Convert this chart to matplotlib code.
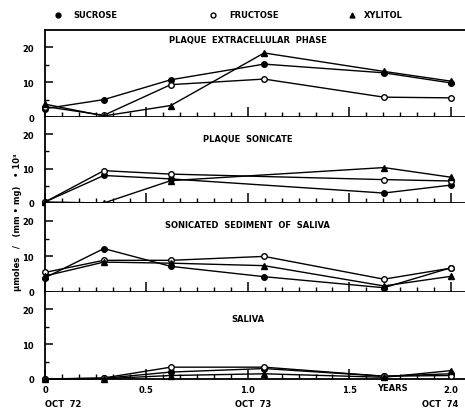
import numpy as np
import matplotlib
matplotlib.use("Agg")
import matplotlib.pyplot as plt
from matplotlib.lines import Line2D
from matplotlib.ticker import MultipleLocator, FixedLocator

# time in years from Oct 72
t_full = [0, 0.29, 0.62, 1.08, 1.67, 2.0]
t_sonic = [0, 0.29, 0.62, 1.67, 2.0]

panel_titles = ["PLAQUE  EXTRACELLULAR  PHASE", "PLAQUE  SONICATE",
                "SONICATED  SEDIMENT  OF  SALIVA", "SALIVA"]
title_y = [22.3, 18.8, 19.1, 17.4]

# plaque extracellular phase
p1_sucrose = [2.4, 5.0, 10.7, 15.2, 12.7, 9.8]
p1_fructose = [3.0, 0.5, 9.3, 10.9, 5.7, 5.5]
p1_xylitol = [3.7, 0.3, 3.3, 18.4, 13.1, 10.3]

# plaque sonicate
p2_sucrose = [0.3, 8.0, 7.0, 2.9, 5.2]
p2_fructose = [0.3, 9.4, 8.4, 6.8, 6.4]
p2_xylitol = [0.3, 0.0, 6.5, 10.3, 7.5]

# sonicated sediment of saliva
p3_sucrose = [4.0, 12.2, 7.2, 4.3, 1.2, 6.8]
p3_fructose = [5.5, 8.9, 8.9, 10.0, 3.6, 6.7]
p3_xylitol = [4.5, 8.4, 8.1, 7.4, 1.7, 4.4]

# saliva
p4_sucrose = [0, 0.2, 2.0, 3.0, 0.8, 1.5]
p4_fructose = [0, 0.3, 3.4, 3.4, 0.8, 1.0]
p4_xylitol = [0, 0.1, 1.0, 1.5, 0.5, 2.4]

panels = [
    (t_full, p1_sucrose, p1_fructose, p1_xylitol),
    (t_sonic, p2_sucrose, p2_fructose, p2_xylitol),
    (t_full, p3_sucrose, p3_fructose, p3_xylitol),
    (t_full, p4_sucrose, p4_fructose, p4_xylitol),
]

xticks = [0, 0.5, 1.0, 1.5, 2.0]
xticklabels = ["0", "0.5", "1.0", "1.5", "2.0"]

fs = 6
bold = dict(fontsize=fs, fontweight="bold", family="DejaVu Sans")

fig = plt.figure(figsize=(4.65, 4.10), dpi=100)
left, right = 45 / 465, 465 / 465
tops = [31, 118, 204, 293]
bots = [118, 204, 293, 380]
axes = []
for i in range(4):
    b = 1 - bots[i] / 410
    h = (bots[i] - tops[i]) / 410
    ax = fig.add_axes([left, b, right - left, h])
    axes.append(ax)

for i, ax in enumerate(axes):
    x, s, f, xy = panels[i]
    ax.plot(x, s, color="black", lw=1.0, marker="o", ms=4, mfc="black", clip_on=False, zorder=3)
    ax.plot(x, f, color="black", lw=1.0, marker="o", ms=4, mfc="white", clip_on=False, zorder=3)
    ax.plot(x, xy, color="black", lw=1.0, marker="^", ms=4, mfc="black", clip_on=False, zorder=3)
    ax.set_xlim(0, 2.07)
    ax.set_ylim(0, 25)
    ax.spines["right"].set_visible(False)
    if i > 0:
        ax.spines["top"].set_visible(False)
    for sp in ax.spines.values():
        sp.set_linewidth(1.3)
    ax.set_yticks([0, 10, 20])
    ax.set_yticklabels(["0", "10", "20"], **bold)
    ax.yaxis.set_minor_locator(FixedLocator([5, 15]))
    ax.tick_params(axis="y", which="major", direction="in", length=6, width=1.1, pad=8)
    ax.tick_params(axis="y", which="minor", direction="in", length=3, width=1.0)
    ax.set_xticks(xticks)
    ax.xaxis.set_minor_locator(MultipleLocator(1 / 12))
    ax.tick_params(axis="x", which="major", direction="in", length=7, width=1.1, top=False)
    ax.tick_params(axis="x", which="minor", direction="in", length=3.5, width=1.0, top=False)
    if i < 3:
        ax.set_xticklabels([])
    else:
        ax.set_xticklabels(xticklabels, **bold)
        ax.tick_params(axis="x", which="major", pad=4)
    ax.text(1.0, title_y[i], panel_titles[i], ha="center", va="center", **bold)

# x axis extras
fig.text(392 / 465, 1 - 389 / 410, "YEARS", ha="center", va="center", **bold)
fig.text(45 / 465, 1 - 405 / 410, "OCT  72", ha="left", va="center", **bold)
fig.text(253 / 465, 1 - 405 / 410, "OCT  73", ha="center", va="center", **bold)
fig.text(458 / 465, 1 - 405 / 410, "OCT  74", ha="right", va="center", **bold)

# y axis label
fig.text(17 / 465, 1 - 222 / 410, "µmoles   /   (mm • mg)   • 10³", rotation=90,
         ha="center", va="center", **bold)

# legend across the top
ly = 1 - 16 / 410
for mx, tx, lab, mk, fc in [(58, 73, "SUCROSE", "o", "black"),
                            (213, 229, "FRUCTOSE", "o", "white"),
                            (352, 364, "XYLITOL", "^", "black")]:
    fig.add_artist(Line2D([mx / 465], [ly], transform=fig.transFigure, marker=mk,
                          ms=3.5, mfc=fc, mec="black", color="black", lw=0))
    fig.text(tx / 465, ly, lab, ha="left", va="center", **bold)

fig.savefig("out.png", dpi=100)
